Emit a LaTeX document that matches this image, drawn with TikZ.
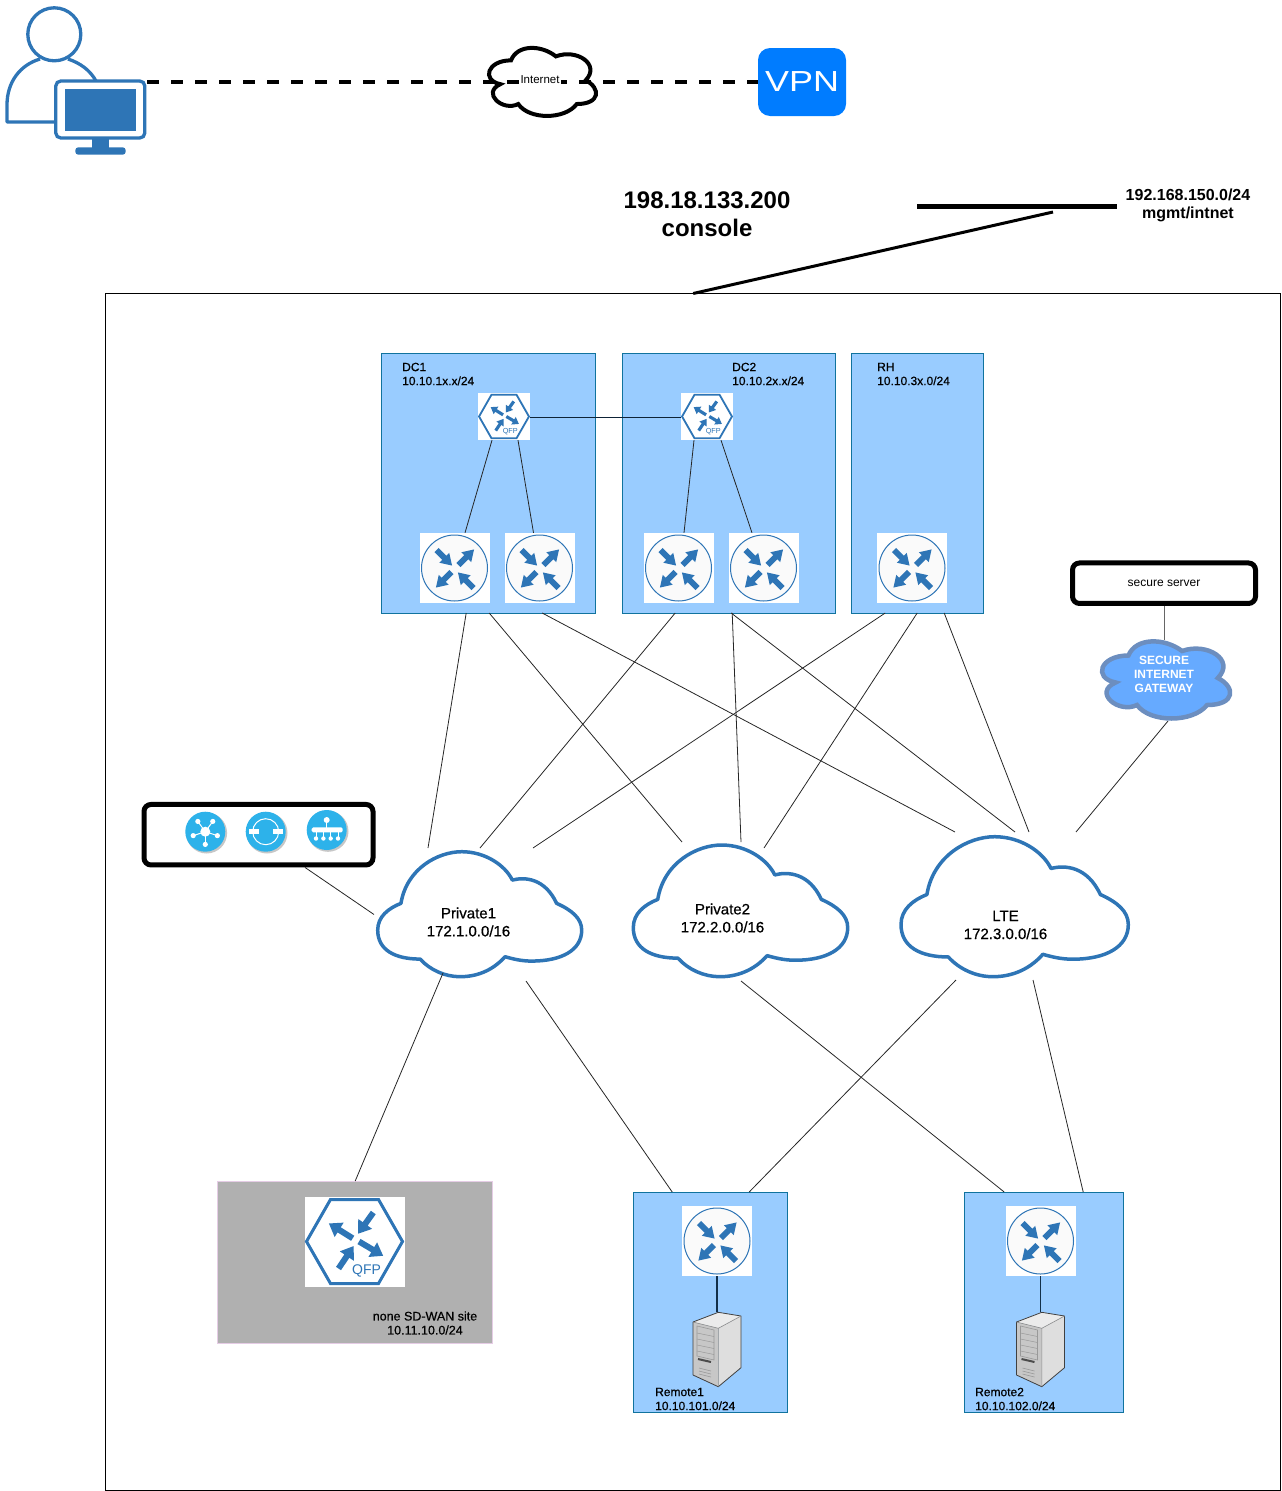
\documentclass[tikz,border=0pt]{standalone}
\usepackage{fontspec}
\setmainfont{Liberation Sans}
\newfontfamily\midfont{Liberation Sans}[FakeBold=0.55]
\usetikzlibrary{positioning}

\definecolor{iconblue}{HTML}{2E75B6}
\definecolor{sitefill}{HTML}{99CCFF}
\definecolor{siteline}{HTML}{10739E}
\definecolor{svcblue}{HTML}{2DB2EA}
\definecolor{vpnblue}{HTML}{007CFF}
\definecolor{gatefill}{HTML}{66AAFF}
\definecolor{gateline}{HTML}{6C8EBF}

% Outline of a cloud with many lobes: style, left, top, width, height
\newcommand{\cloudshape}[5]{
	\draw[#1,shift={(#2,#3)},x=#4pt,y=-#5pt] (.25,.25)
		.. controls (.05,.25) and (0,.5) .. (.16,.55)
		.. controls (0,.66) and (.18,.9) .. (.31,.8)
		.. controls (.4,1) and (.7,1) .. (.8,.8)
		.. controls (1,.8) and (1,.6) .. (.875,.5)
		.. controls (1,.3) and (.8,.1) .. (.625,.2)
		.. controls (.5,.05) and (.3,.05) .. (.25,.25) -- cycle;
}
% Outline of a wan cloud: left, top, width, height
\newcommand{\wanshape}[4]{
	\draw[line width=3.5pt,iconblue,fill=white,line join=round,shift={(#1,#2)},x=#3pt,y=-#4pt] (.114,.413)
		.. controls (.142,.133) and (.297,0) .. (.412,0)
		.. controls (.526,0) and (.624,.107) .. (.660,.227)
		.. controls (.722,.2) and (.820,.213) .. (.877,.413)
		.. controls (.951,.467) and (1,.533) .. (1,.627)
		.. controls (1,.787) and (.902,.875) .. (.755,.875)
		.. controls (.706,.875) and (.665,.859) .. (.624,.84)
		.. controls (.559,.96) and (.477,1) .. (.404,1)
		.. controls (.330,1) and (.257,.947) .. (.208,.859)
		.. controls (.085,.859) and (0,.787) .. (0,.627)
		.. controls (0,.52) and (.052,.453) .. (.114,.413) -- cycle;
}

\tikzset{
	netlink/.style={line width=.8pt,black!85},
	sitebox/.style={draw=siteline,fill=sitefill,line width=.8pt,inner sep=0,outer sep=0},
	routerbox/.style={fill=white,minimum width=70pt,minimum height=70pt,inner sep=0},
	qfpbox/.style={fill=white,inner sep=0},
	thickbox/.style={draw=black,line width=5pt,rounded corners=7pt,fill=white,inner sep=0,outer sep=2.5pt},
	netlabel/.style={font=\midfont\fontsize{12}{14}\selectfont,align=left,inner sep=0},
	cloudlabel/.style={font=\midfont\fontsize{15}{18}\selectfont,align=center,inner sep=0},
	cloudzone/.style={inner sep=0,outer sep=0},
	routericon/.pic={
		\draw[iconblue,fill=black!2,line width=1pt] (0,0) circle (33);
		\foreach \ax/\ay/\aang in {-18/-18/-45,4/-3/45,-3/4/-135,19/20/135}
			\fill[iconblue,shift={(\ax,\ay)},rotate=\aang]
				(0,-2.9) -- (11,-2.9) -- (11,-7) -- (22,0) -- (11,7) -- (11,2.9) -- (0,2.9) -- cycle;
	},
	qfpicon/.pic={
		\draw[iconblue,line width=3pt*\pgfkeysvalueof{/tikz/qfpweight}] (-48,0) -- (-24,-42) -- (24,-42) -- (48,0) -- (24,42) -- (-24,42) -- cycle;
		\foreach \ax/\ay/\aang/\alen in {18.8/-29/-125.5/26,-1.8/-3.2/148/28,4.5/0/-30.6/28,-16/27/56/27}
			\fill[iconblue,shift={(\ax,\ay)},rotate=\aang]
				(0,-3) -- (\alen-12,-3) -- (\alen-12,-8.5) -- (\alen,0) -- (\alen-12,8.5) -- (\alen-12,3) -- (0,3) -- cycle;
		\node[text=iconblue,font=\fontsize{14}{14}\selectfont,inner sep=0,transform shape] at (12,29) {QFP};
	},
	qfpweight/.initial=1,
	servericon/.pic={
		\fill[black!8] (-24,-28) -- (1.3,-37.7) -- (24,-34) -- (1.3,-21.7) -- cycle;
		\fill[black!22] (-24,-28) -- (1.3,-21.7) -- (1.3,36.7) -- (-24,25) -- cycle;
		\fill[black!13] (1.3,-21.7) -- (24,-34) -- (24,17.7) -- (1.3,36.7) -- cycle;
		\draw[black!75,line width=.8pt,line join=round] (-24,-28) -- (1.3,-37.7) -- (24,-34) -- (24,17.7) -- (1.3,36.7) -- (-24,25) -- cycle;
		\draw[black!45,line width=.6pt] (-24,-28) -- (1.3,-21.7) -- (24,-34) (1.3,-21.7) -- (1.3,36.7);
		\draw[black!40,line width=.6pt] (-20,-24) -- (-3,-20) -- (-3,10) -- (-20,6) -- cycle;
		\foreach \ay in {-17,-11,-5,1}
			\draw[black!40,line width=.5pt] (-20,\ay) -- (-3,\ay+3.5);
		\draw[black!70,line width=2pt] (-19,9) -- (-6,12);
		\foreach \ay in {18,21,24}
			\draw[black!40,line width=.6pt] (-18,\ay) -- (-6,\ay+3);
	},
}

\begin{document}
\begin{tikzpicture}[x=1pt,y=-1pt]
	\useasboundingbox (0,0) rectangle (1282,1491);

	% Draw the outer frame
	\node[draw=black,line width=1pt,minimum width=1175.5pt,minimum height=1197pt,inner sep=0,outer sep=0] (frame) at (693.2,892) {};

	% Draw the user and the vpn
	\draw[iconblue,line width=3.3pt] (54.3,34.3) circle (26.5);
	\draw[iconblue,line width=3.3pt,line join=round] (40,59) .. controls (20,65) and (7,82) .. (7,105) -- (7,122) -- (56,122);
	\draw[iconblue,line width=3.3pt] (68,59) .. controls (80,63) and (90,70) .. (96,81);
	\node[draw=iconblue,fill=white,line width=3.3pt,rounded corners=5pt,minimum width=89pt,minimum height=57pt,inner sep=0] (desktop) at (100.3,109.5) {};
	\fill[iconblue] (64.7,89) rectangle (136,130.7);
	\fill[iconblue] (92.3,139) rectangle (109.3,148);
	\fill[iconblue,rounded corners=3pt] (75.3,147.3) rectangle (125.7,154.7);
	\coordinate (userport) at (147,81.5);
	\node[fill=vpnblue,rounded corners=12pt,minimum width=88pt,minimum height=68pt,inner sep=0] (vpn) at (802,82) {};
	\draw[line width=4pt,dash pattern=on 12pt off 12pt] (userport) -- (vpn.west |- userport);
	\node[text=white,font=\fontsize{29}{29}\selectfont,xscale=1.24,transform shape,inner sep=0] (vpntext) at (vpn.center) {VPN};

	% Draw the internet cloud
	\cloudshape{line width=4pt,black}{481.2}{40.5}{119.5}{79.4}
	\node[fill=white,font=\fontsize{11.5}{12}\selectfont,inner sep=1pt] (internet) at (540,80) {Internet};

	% Draw the console uplink
	\node[font=\bfseries\fontsize{24}{28}\selectfont,align=center,inner sep=0] (console) at (707,214) {198.18.133.200\\console};
	\node[fill=black,minimum width=200pt,minimum height=5pt,inner sep=0,outer sep=0] (mgmtbar) at (1017,206) {};
	\draw[line width=3pt] (frame.north) -- ([xshift=36pt,yshift=-3.5pt]mgmtbar.south);
	\node[font=\bfseries\fontsize{16}{18}\selectfont,align=center,inner sep=0] (mgmtnet) at (1188,205.5) {192.168.150.0/24\\mgmt/intnet};

	% Draw the sites
	\node[sitebox,minimum width=214.3pt,minimum height=260pt] (dcone) at (488.7,483) {};
	\node[sitebox,minimum width=213.3pt,minimum height=260pt] (dctwo) at (729.2,483) {};
	\node[sitebox,minimum width=132.3pt,minimum height=260pt] (rh) at (917.7,483) {};
	\node[sitebox,minimum width=154.3pt,minimum height=220pt] (remoteone) at (710.7,1302) {};
	\node[sitebox,minimum width=159.3pt,minimum height=220pt] (remotetwo) at (1044.2,1302) {};
	\node[draw=violet!20,fill=black!31,line width=.8pt,minimum width=275.3pt,minimum height=162pt,inner sep=0,outer sep=0] (nonsdwan) at (355.2,1262) {};

	% Draw the clouds
	\wanshape{377.7}{851.7}{204}{125}
	\wanshape{633.3}{845}{214.4}{131.7}
	\wanshape{901}{836.7}{227.3}{140}
	\cloudshape{line width=4.5pt,gateline,fill=gatefill}{1092.7}{633}{143}{90}
	\node[cloudzone,minimum width=205pt,minimum height=127pt] (privateone) at (479.5,914.5) {};
	\node[cloudzone,minimum width=214pt,minimum height=133pt] (privatetwo) at (741,911.5) {};
	\node[cloudzone,minimum width=228pt,minimum height=141pt] (lte) at (1015,907.5) {};
	\node[cloudzone,minimum width=132pt,minimum height=82pt] (gateway) at (1166,680) {};

	% Draw the routers
	\foreach \rname/\rx/\ry in {rone/454.5/568,rtwo/539.5/568,rthree/678.5/568,rfour/763.5/568,rfive/912/568,rsix/717/1241,rseven/1040.5/1241}{
		\node[routerbox] (\rname) at (\rx,\ry) {};
		\pic at (\rname.center) {routericon};
	}

	% Draw the QFP routers
	\node[qfpbox,minimum width=52pt,minimum height=47pt] (qone) at (504,416.5) {};
	\node[qfpbox,minimum width=52pt,minimum height=47pt] (qtwo) at (707,416.5) {};
	\node[qfpbox,minimum width=100pt,minimum height=90pt] (qthree) at (354.5,1241.5) {};
	\pic[scale=.52,qfpweight=.6] at (qone.center) {qfpicon};
	\pic[scale=.52,qfpweight=.6] at (qtwo.center) {qfpicon};
	\pic at (qthree.center) {qfpicon};

	% Draw the links inside the sites
	\draw[netlink,black!70!iconblue] ([yshift=-1.3pt]qone.east) -- ([yshift=-1.3pt]qtwo.west);
	\draw[netlink] ([xshift=-12pt]qone.south) -- ([xshift=10.5pt]rone.north);
	\draw[netlink] ([xshift=14pt]qone.south) -- ([xshift=-6pt]rtwo.north);
	\draw[netlink] ([xshift=-13pt]qtwo.south) -- ([xshift=5.5pt]rthree.north);
	\draw[netlink] ([xshift=14pt]qtwo.south) -- ([xshift=-11.5pt]rfour.north);

	% Draw the links from the sites to the clouds
	\foreach \from/\fx/\to/\tx/\ty in {dcone/-22.5/privateone/-51.5/3,dcone/.5/privatetwo/-59/3,dcone/53.5/lte/-60/5,
		dctwo/-54/privateone/.5/3,dctwo/3/privatetwo/0/3,dctwo/2/lte/0/5,
		rh/-32.5/privateone/53.5/3,rh/-.5/privatetwo/23/-3,rh/26.5/lte/14/5,gateway/2/lte/61/5}
		\draw[netlink] ([xshift=\fx pt]\from.south) -- ([xshift=\tx pt,yshift=\ty pt]\to.north);

	% Draw the links from the clouds to the remote sites
	\foreach \from/\fx/\fy/\to/\tx in {privateone/-36.5/5/nonsdwan/0,privateone/46.5/-3/remoteone/-38.5,privatetwo/0/-3/remotetwo/-40,
		lte/-59/-2/remoteone/38.5,lte/18/-2/remotetwo/39}
		\draw[netlink] ([xshift=\fx pt,yshift=\fy pt]\from.south) -- ([xshift=\tx pt]\to.north);

	% Draw the secure server
	\node[thickbox,minimum width=183pt,minimum height=40.5pt,font=\fontsize{12}{14}\selectfont] (secure) at (1164,583.2) {\raisebox{-1pt}{secure server}};
	\draw[line width=1pt,black!60] (secure.south) -- ([xshift=-2pt,yshift=-1pt]gateway.north);

	% Draw the services box
	\node[thickbox,minimum width=229pt,minimum height=60.5pt] (services) at (258.5,834.7) {};
	\draw[netlink] ([xshift=46.5pt]services.south) -- ([xshift=-3pt]privateone.west);
	\foreach \sname/\sx/\sy in {hub/205.3/831.7,ring/265.7/831.7,tree/326.7/830}{
		\fill[black!22] (\sx+1.3,\sy+1.3) circle (20.5);
		\node[circle,fill=svcblue,minimum size=40pt,inner sep=0] (\sname) at (\sx,\sy) {};
	}
	\foreach \ang in {90,18,-54,-126,162}{
		\draw[white,line width=1pt] (hub.center) -- +(\ang:12.7);
		\fill[white] (hub.center) ++(\ang:12.7) circle (2.6);
	}
	\fill[white] (hub.center) circle (5);
	\draw[white,line width=1pt] (ring.center) circle (13);
	\fill[white] ([xshift=-16.3pt,yshift=-2.7pt]ring.center) rectangle ([xshift=-6.3pt,yshift=2.7pt]ring.center);
	\fill[white] ([xshift=7.7pt,yshift=-2.7pt]ring.center) rectangle ([xshift=17.7pt,yshift=2.7pt]ring.center);
	\fill[white] ([yshift=10pt]tree.center) circle (3);
	\draw[white,line width=1.2pt] ([yshift=10pt]tree.center) -- (tree.center);
	\fill[white,rounded corners=1.5pt] ([xshift=-15pt,yshift=2.7pt]tree.center) rectangle ([xshift=16pt,yshift=-2.3pt]tree.center);
	\foreach \dx in {-10.7,-3.3,4,11.3}{
		\draw[white,line width=1pt] ([xshift=\dx pt]tree.center) -- ([xshift=\dx pt,yshift=-8pt]tree.center);
		\fill[white] ([xshift=\dx pt,yshift=-8.5pt]tree.center) circle (2.2);
	}

	% Draw the servers
	\pic at (717,1350) {servericon};
	\pic at (1040.5,1350) {servericon};
	\draw[line width=1.5pt,black!60!iconblue] (rsix.south) -- +(0,36);
	\draw[line width=1.5pt,black!60!iconblue] (rseven.south) -- +(0,36);

	% Draw the labels
	\node[netlabel,anchor=west] (dconelabel) at (402,374) {DC1\\10.10.1x.x/24};
	\node[netlabel,anchor=west] (dctwolabel) at (732,374) {DC2\\10.10.2x.x/24};
	\node[netlabel,anchor=west] (rhlabel) at (877,374) {RH\\10.10.3x.0/24};
	\node[netlabel,anchor=west] (remoteonelabel) at (655,1399) {Remote1\\10.10.101.0/24};
	\node[netlabel,anchor=west] (remotetwolabel) at (975,1399) {Remote2\\10.10.102.0/24};
	\node[netlabel,align=center,font=\midfont\fontsize{12.5}{14}\selectfont] (nonsdwanlabel) at (425,1323) {none SD-WAN site\\10.11.10.0/24};
	\node[cloudlabel] (privateonelabel) at (468.5,922) {Private1\\172.1.0.0/16};
	\node[cloudlabel] (privatetwolabel) at (722.5,918) {Private2\\172.2.0.0/16};
	\node[cloudlabel] (ltelabel) at (1005.5,925) {LTE\\172.3.0.0/16};
	\node[text=white,font=\bfseries\fontsize{12}{14}\selectfont,align=center,inner sep=0] (gatewaylabel) at (1164,674) {SECURE\\INTERNET\\GATEWAY};
\end{tikzpicture}
\end{document}
